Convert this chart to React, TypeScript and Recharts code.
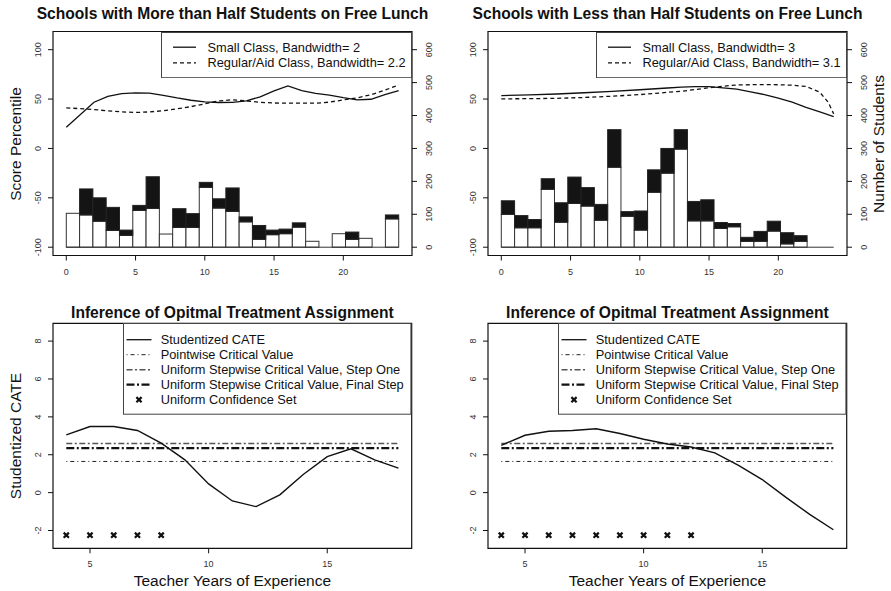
import React from 'react';
import {
  ComposedChart,
  Line,
  Bar,
  Scatter,
  XAxis,
  YAxis,
  ReferenceArea,
  ReferenceLine,
  Legend,
} from 'recharts';

const FONT = '"Liberation Sans", Arial, Helvetica, sans-serif';

// ---------- Histogram bins: teacher years of experience (bin width 0.96) ----------
const binCenters = [
  0.48, 1.44, 2.4, 3.36, 4.32, 5.28, 6.24, 7.2, 8.16, 9.12, 10.08, 11.04, 12.0,
  12.96, 13.92, 14.88, 15.84, 16.8, 17.76, 18.72, 19.68, 20.64, 21.6, 22.56, 23.52,
];
const binWidth = 0.96;

// Number of students per bin, schools with more than half on free lunch
const moreLunchSmallCounts = [
  103, 98, 79, 51, 36, 112, 118, 40, 60, 60, 182, 119, 109, 77, 24, 38, 41, 61, 18, 0, 41, 24, 27, 0, 86,
];
const moreLunchRegularCounts = [
  0, 177, 150, 121, 52, 127, 214, 0, 117, 102, 197, 147, 180, 92, 66, 52, 55, 74, 0, 0, 0, 46, 0, 0, 98,
];

// Number of students per bin, schools with less than half on free lunch
const lessLunchSmallCounts = [
  100, 59, 59, 176, 76, 133, 125, 82, 243, 94, 52, 167, 225, 298, 80, 80, 57, 62, 18, 18, 49, 10, 18, 0, 0,
];
const lessLunchRegularCounts = [
  141, 96, 84, 208, 135, 213, 181, 130, 357, 108, 110, 235, 300, 357, 139, 144, 75, 72, 30, 48, 79, 44, 35, 0, 0,
];

// ---------- Smoothed score percentile curves ----------
const moreSmallX = [0, 2, 3, 4, 5, 6, 7, 8, 9, 10, 11, 12, 13, 14, 15, 16, 17, 18, 19, 20, 21, 22, 23, 24];
const moreSmallScore = [
  21.5, 46.8, 52.8, 55.5, 56.2, 56.0, 53.8, 51.1, 48.8, 47.2, 46.5, 46.6, 48.2, 52.3, 58.2, 63.3, 58.6,
  55.7, 54.0, 51.4, 49.2, 49.8, 54.5, 58.6,
];
const moreRegularX = [0, 2, 3, 4, 5, 6, 7, 8, 9, 10, 11, 12, 13, 14, 15, 16, 17, 18, 19, 20, 21, 22, 23, 24];
const moreRegularScore = [
  41.1, 39.4, 38.0, 37.0, 36.4, 37.0, 38.2, 40.1, 42.3, 45.2, 48.1, 49.3, 48.1, 46.7, 46.0, 45.8, 45.8,
  45.8, 46.9, 49.1, 51.2, 54.4, 59.0, 64.3,
];

const lessSmallX = [0, 2, 4, 6, 8, 10, 12, 13, 14, 15, 16, 17, 18, 19, 20, 21, 22, 23, 24];
const lessSmallScore = [
  53.5, 54.3, 55.1, 56.4, 57.8, 59.4, 61.2, 62.1, 62.5, 62.5, 61.3, 60.0, 57.3, 54.5, 51.0, 46.9, 41.6,
  37.1, 32.3,
];
const lessRegularX = [0, 2, 4, 6, 8, 10, 12, 13, 14, 15, 16, 17, 18, 19, 20, 21, 22, 23, 23.6, 24];
const lessRegularScore = [
  50.2, 50.4, 50.7, 51.6, 52.9, 54.5, 56.8, 57.9, 59.6, 61.4, 63.0, 64.3, 64.5, 64.6, 64.5, 64.0, 62.8,
  56.9, 46.8, 35.0,
];

// ---------- Studentized CATE by years of experience ----------
const cateYears = [4, 5, 6, 7, 8, 9, 10, 11, 12, 13, 14, 15, 16, 17, 18];
const cateMoreLunch = [3.05, 3.49, 3.49, 3.28, 2.61, 1.73, 0.46, -0.44, -0.74, -0.12, 0.97, 1.9, 2.31, 1.73, 1.29];
const cateLessLunch = [2.5, 3.03, 3.24, 3.28, 3.37, 3.12, 2.82, 2.57, 2.41, 2.1, 1.44, 0.69, -0.25, -1.15, -1.96];

const pointwiseCritical = 1.645;
const stepOneCritical = 2.59;
const finalStepCritical = 2.35;

const confidenceSetMore = [4, 5, 6, 7, 8];
const confidenceSetLess = [4, 5, 6, 7, 8, 9, 10, 11, 12];
const confidenceSetLevel = -2.25;

// ---------- Axis settings ----------
const yearDomainTop: [number, number] = [-0.96, 24.96];
const yearTicksTop = [0, 5, 10, 15, 20];
const scoreDomain: [number, number] = [-108.4, 118.4];
const scoreTicks = [-100, -50, 0, 50, 100];
const studentDomain: [number, number] = [-25.2, 655.2];
const studentTicks = [0, 100, 200, 300, 400, 500, 600];

const yearDomainBottom: [number, number] = [3.44, 18.56];
const yearTicksBottom = [5, 10, 15];
const cateDomain: [number, number] = [-2.94, 8.94];
const cateTicks = [-2, 0, 2, 4, 6, 8];

// ---------- Styles ----------
const SOLID = { stroke: '#111', strokeWidth: 1.3 };
const DASHED = { stroke: '#111', strokeWidth: 1.3, strokeDasharray: '4 3' };
const POINTWISE = { stroke: '#222', strokeWidth: 1, strokeDasharray: '1 3 4 3' };
const STEP_ONE = { stroke: '#555', strokeWidth: 1.6, strokeDasharray: '6 2.5 2 2.5' };
const FINAL_STEP = { stroke: '#111', strokeWidth: 2.2, strokeDasharray: '8 2.5 2 2.5' };

type Pt = { x: number; y: number };
const zip = (xs: number[], ys: number[]): Pt[] => xs.map((x, i) => ({ x, y: ys[i] }));

const histRows = (small: number[], regular: number[]) =>
  binCenters.map((x, i) => ({ x, small: small[i], extra: Math.max(0, regular[i] - small[i]) }));

// Histogram rectangle: full bin width, centred on the bin centre the Bar gives us
const histBar = (barPx: number, fill: string, stroke: string) => (props: any) => {
  const { x, y, width, height } = props;
  if (!height || height <= 0) return <g />;
  const cx = x + width / 2;
  return (
    <rect x={cx - barPx / 2} y={y} width={barPx} height={height} fill={fill} stroke={stroke} strokeWidth={1} />
  );
};

// ---------- Tick renderers ----------
const RotatedTick = (props: any) => {
  const { x, y, payload } = props;
  return (
    <text
      x={x}
      y={y}
      dy="0.35em"
      textAnchor="middle"
      transform={`rotate(-90 ${x} ${y})`}
      fontSize={9}
      fill="#333"
      fontFamily={FONT}
    >
      {payload.value}
    </text>
  );
};

const FlatTick = (props: any) => {
  const { x, y, payload } = props;
  return (
    <text x={x} y={y} dy="0.35em" textAnchor="middle" fontSize={9} fill="#333" fontFamily={FONT}>
      {payload.value}
    </text>
  );
};

const CrossShape = (props: any) => {
  const { cx, cy } = props;
  const r = 2.6;
  return (
    <path
      d={`M${cx - r},${cy - r}L${cx + r},${cy + r}M${cx - r},${cy + r}L${cx + r},${cy - r}`}
      stroke="#111"
      strokeWidth={2.2}
      fill="none"
    />
  );
};

// ---------- Legend box ----------
type LegendEntry = { label: string; style?: any; cross?: boolean };

const makeLegend = (
  entries: LegendEntry[],
  width: number,
  height: number,
  sample: [number, number],
  textX: number,
  firstRow: number,
  rowGap: number,
  fontSize: number,
) => () => (
  <svg width={width} height={height} style={{ display: 'block' }}>
    <rect x={0.5} y={0.5} width={width - 1} height={height - 1} fill="#fff" stroke="#444" strokeWidth={1} />
    {entries.map((e, i) => {
      const cy = firstRow + i * rowGap;
      const mid = (sample[0] + sample[1]) / 2;
      return (
        <g key={e.label}>
          {e.cross ? (
            <CrossShape cx={mid} cy={cy} />
          ) : (
            <line x1={sample[0]} x2={sample[1]} y1={cy} y2={cy} {...e.style} />
          )}
          <text x={textX} y={cy} dy="0.35em" fontSize={fontSize} fill="#111" fontFamily={FONT}>
            {e.label}
          </text>
        </g>
      );
    })}
  </svg>
);

// ---------- Text overlays ----------
const Caption = ({
  x,
  y,
  text,
  size,
  bold,
  rotate,
}: {
  x: number;
  y: number;
  text: string;
  size: number;
  bold?: boolean;
  rotate?: boolean;
}) => (
  <div
    style={{
      position: 'absolute',
      left: x,
      top: y,
      transform: `translate(-50%, -50%)${rotate ? ' rotate(-90deg)' : ''}`,
      whiteSpace: 'nowrap',
      lineHeight: 1,
      fontFamily: FONT,
      fontSize: size,
      fontWeight: bold ? 700 : 400,
      color: '#111',
    }}
  >
    {text}
  </div>
);

// ---------- Top panels: score curves over student histograms ----------
const TopPanel = ({
  left,
  width,
  rightAxisWidth,
  small,
  regular,
  smallCurve,
  regularCurve,
  legendLabels,
}: {
  left: number;
  width: number;
  rightAxisWidth: number;
  small: number[];
  regular: number[];
  smallCurve: Pt[];
  regularCurve: Pt[];
  legendLabels: [string, string];
}) => {
  const plotWidth = width - 53 - rightAxisWidth;
  const barPx = (binWidth / (yearDomainTop[1] - yearDomainTop[0])) * plotWidth;
  const legendW = plotWidth - 108;
  return (
    <div style={{ position: 'absolute', left, top: 0 }}>
      <ComposedChart
        width={width}
        height={295}
        data={histRows(small, regular)}
        margin={{ top: 31.5, right: 0, bottom: 9.5, left: 0 }}
        barCategoryGap={0}
        barGap={0}
      >
        <XAxis
          dataKey="x"
          type="number"
          domain={yearDomainTop}
          ticks={yearTicksTop}
          allowDataOverflow
          axisLine={false}
          tickLine={{ stroke: '#111' }}
          tickSize={5}
          tickMargin={11.5}
          height={30}
          tick={FlatTick}
        />
        <YAxis
          yAxisId="score"
          orientation="left"
          type="number"
          width={53}
          domain={scoreDomain}
          ticks={scoreTicks}
          allowDataOverflow
          axisLine={false}
          tickLine={{ stroke: '#111' }}
          tickSize={5}
          tickMargin={10}
          tick={RotatedTick}
        />
        <YAxis
          yAxisId="n"
          orientation="right"
          type="number"
          width={rightAxisWidth}
          domain={studentDomain}
          ticks={studentTicks}
          allowDataOverflow
          axisLine={false}
          tickLine={{ stroke: '#111' }}
          tickSize={5}
          tickMargin={12}
          tick={RotatedTick}
        />
        <Bar
          yAxisId="n"
          dataKey="small"
          stackId="hist"
          fill="#fff"
          stroke="#333"
          shape={histBar(barPx, '#fff', '#333')}
          isAnimationActive={false}
        />
        <Bar
          yAxisId="n"
          dataKey="extra"
          stackId="hist"
          fill="#141414"
          stroke="#222"
          shape={histBar(barPx, '#141414', '#222')}
          isAnimationActive={false}
        />
        <ReferenceLine
          yAxisId="n"
          segment={[
            { x: 0, y: 0 },
            { x: 24, y: 0 },
          ]}
          stroke="#333"
          strokeWidth={1}
          ifOverflow="visible"
        />
        <Line
          yAxisId="score"
          data={smallCurve}
          dataKey="y"
          type="linear"
          dot={false}
          activeDot={false}
          {...SOLID}
          isAnimationActive={false}
        />
        <Line
          yAxisId="score"
          data={regularCurve}
          dataKey="y"
          type="linear"
          dot={false}
          activeDot={false}
          {...DASHED}
          isAnimationActive={false}
        />
        <ReferenceArea
          yAxisId="score"
          x1={yearDomainTop[0]}
          x2={yearDomainTop[1]}
          y1={scoreDomain[0]}
          y2={scoreDomain[1]}
          fill="none"
          stroke="#111"
          strokeWidth={1.2}
          ifOverflow="visible"
        />
        <Legend
          layout="horizontal"
          verticalAlign="middle"
          align="center"
          wrapperStyle={{ left: 161, top: 31.5, width: legendW, height: 46.2 }}
          content={makeLegend(
            [
              { label: legendLabels[0], style: SOLID },
              { label: legendLabels[1], style: DASHED },
            ],
            legendW,
            46.2,
            [12, 35],
            46.5,
            15.2,
            15.6,
            12.8,
          )}
        />
      </ComposedChart>
    </div>
  );
};

// ---------- Bottom panels: studentized CATE and critical values ----------
const BottomPanel = ({
  left,
  width,
  rightMargin,
  cate,
  confidenceSet,
}: {
  left: number;
  width: number;
  rightMargin: number;
  cate: number[];
  confidenceSet: number[];
}) => {
  const plotWidth = width - 53 - rightMargin;
  const legendW = plotWidth - 70.3;
  const span = [cateYears[0], cateYears[cateYears.length - 1]];
  return (
    <div style={{ position: 'absolute', left, top: 295 }}>
      <ComposedChart
        width={width}
        height={296}
        margin={{ top: 28.3, right: rightMargin, bottom: 12.7, left: 0 }}
      >
        <XAxis
          dataKey="x"
          type="number"
          domain={yearDomainBottom}
          ticks={yearTicksBottom}
          allowDataOverflow
          axisLine={false}
          tickLine={{ stroke: '#111' }}
          tickSize={5}
          tickMargin={10.7}
          height={30}
          tick={FlatTick}
        />
        <YAxis
          type="number"
          width={53}
          domain={cateDomain}
          ticks={cateTicks}
          allowDataOverflow
          axisLine={false}
          tickLine={{ stroke: '#111' }}
          tickSize={5}
          tickMargin={10}
          tick={RotatedTick}
        />
        <Line
          data={zip(span, [pointwiseCritical, pointwiseCritical])}
          dataKey="y"
          dot={false}
          activeDot={false}
          {...POINTWISE}
          isAnimationActive={false}
        />
        <Line
          data={zip(span, [stepOneCritical, stepOneCritical])}
          dataKey="y"
          dot={false}
          activeDot={false}
          {...STEP_ONE}
          isAnimationActive={false}
        />
        <Line
          data={zip(span, [finalStepCritical, finalStepCritical])}
          dataKey="y"
          dot={false}
          activeDot={false}
          {...FINAL_STEP}
          isAnimationActive={false}
        />
        <Line
          data={zip(cateYears, cate)}
          dataKey="y"
          type="linear"
          dot={false}
          activeDot={false}
          {...SOLID}
          strokeWidth={1.4}
          isAnimationActive={false}
        />
        <Scatter
          data={confidenceSet.map((x) => ({ x, y: confidenceSetLevel }))}
          dataKey="y"
          shape={CrossShape}
          isAnimationActive={false}
        />
        <ReferenceArea
          x1={yearDomainBottom[0]}
          x2={yearDomainBottom[1]}
          y1={cateDomain[0]}
          y2={cateDomain[1]}
          fill="none"
          stroke="#111"
          strokeWidth={1.2}
          ifOverflow="visible"
        />
        <Legend
          layout="horizontal"
          verticalAlign="middle"
          align="center"
          wrapperStyle={{ left: 123.3, top: 28.3, width: legendW, height: 91.7 }}
          content={makeLegend(
            [
              { label: 'Studentized CATE', style: SOLID },
              { label: 'Pointwise Critical Value', style: POINTWISE },
              { label: 'Uniform Stepwise Critical Value, Step One', style: STEP_ONE },
              { label: 'Uniform Stepwise Critical Value, Final Step', style: FINAL_STEP },
              { label: 'Uniform Confidence Set', cross: true },
            ],
            legendW,
            91.7,
            [3.5, 28.5],
            37.7,
            16.7,
            15,
            12.8,
          )}
        />
      </ComposedChart>
    </div>
  );
};

export default function App() {
  return (
    <div
      style={{
        position: 'fixed',
        left: 0,
        top: 0,
        width: 891,
        height: 591,
        background: '#fff',
        overflow: 'hidden',
      }}
    >
      <TopPanel
        left={0}
        width={445}
        rightAxisWidth={33}
        small={moreLunchSmallCounts}
        regular={moreLunchRegularCounts}
        smallCurve={zip(moreSmallX, moreSmallScore)}
        regularCurve={zip(moreRegularX, moreRegularScore)}
        legendLabels={['Small Class, Bandwidth= 2', 'Regular/Aid Class, Bandwidth= 2.2']}
      />
      <TopPanel
        left={435}
        width={456}
        rightAxisWidth={44}
        small={lessLunchSmallCounts}
        regular={lessLunchRegularCounts}
        smallCurve={zip(lessSmallX, lessSmallScore)}
        regularCurve={zip(lessRegularX, lessRegularScore)}
        legendLabels={['Small Class, Bandwidth= 3', 'Regular/Aid Class, Bandwidth= 3.1']}
      />
      <BottomPanel left={0} width={445} rightMargin={33.3} cate={cateMoreLunch} confidenceSet={confidenceSetMore} />
      <BottomPanel left={435} width={456} rightMargin={44.3} cate={cateLessLunch} confidenceSet={confidenceSetLess} />

      <Caption x={232.5} y={14} text="Schools with More than Half Students on Free Lunch" size={15.6} bold />
      <Caption x={667.5} y={14} text="Schools with Less than Half Students on Free Lunch" size={15.6} bold />
      <Caption x={232.4} y={313.3} text="Inference of Opitmal Treatment Assignment" size={15.6} bold />
      <Caption x={667.4} y={313.3} text="Inference of Opitmal Treatment Assignment" size={15.6} bold />

      <Caption x={16} y={143.5} text="Score Percentile" size={15.5} rotate />
      <Caption x={879} y={143.5} text="Number of Students" size={15.5} rotate />
      <Caption x={16} y={435.8} text="Studentized CATE" size={15.5} rotate />
      <Caption x={232.4} y={580.7} text="Teacher Years of Experience" size={15.5} />
      <Caption x={667.4} y={580.7} text="Teacher Years of Experience" size={15.5} />
    </div>
  );
}
